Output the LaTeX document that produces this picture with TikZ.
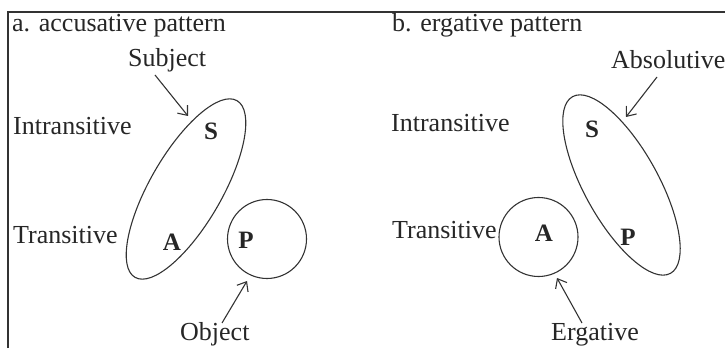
\documentclass[tikz,border=0pt]{standalone}
\usepackage{fontspec}
\setmainfont{Liberation Serif}
\usetikzlibrary{shapes.geometric,arrows.meta}
\definecolor{ink}{HTML}{262626}
\definecolor{linec}{HTML}{333333}
\begin{document}
\begin{tikzpicture}[x=1pt,y=1pt,
  lbl/.style={anchor=base west,inner sep=0pt,text=ink,font=\fontsize{26}{30}\selectfont},
  role/.style={inner sep=0pt,text=ink,font=\fontsize{25}{30}\selectfont\bfseries},
  blob/.style={draw=linec,line width=1.1pt,ellipse,inner sep=0pt},
  ring/.style={draw=linec,line width=1.1pt,circle,inner sep=0pt,minimum size=79pt},
  pointer/.style={draw=linec,line width=1.1pt,-{Straight Barb[length=8pt,width=13pt,line width=1.1pt]}},
  frame/.style={draw=linec,line width=1.2pt}]
\useasboundingbox (0,0) rectangle (725,348);
% frame
\coordinate (fb) at (8,0);
\coordinate (fc) at (8,336);
\coordinate (fr) at (725,336);
\draw[frame] (fb) -- (fc) -- (fr);
% titles
\node[lbl] (ta) at (12,316) {a. accusative pattern};
\node[lbl] (tb) at (392,316) {b. ergative pattern};
% left panel
\node[lbl] (intrA) at (13,213) {Intransitive};
\node[lbl] (transA) at (13,104) {Transitive};
\node[lbl] (subj) at (128,281) {Subject};
\node[lbl] (obj) at (180,8) {Object};
\node[blob,minimum width=204pt,minimum height=72pt,rotate=60] (ellA) at (186,159) {};
\node[ring] (circP) at (267,109) {};
\node[role] (sA) at (211,217) {S};
\node[role] (aA) at (172,106) {A};
\node[role] (pA) at (246,108) {P};
\coordinate (subjS) at (155,273);
\coordinate (subjE) at (188,232);
\coordinate (objS) at (222,25);
\coordinate (objE) at (247,67);
\draw[pointer] (subjS) -- (subjE);
\draw[pointer] (objS) -- (objE);
% right panel
\node[lbl] (intrB) at (391,216) {Intransitive};
\node[lbl] (transB) at (392,109) {Transitive};
\node[lbl] (abs) at (611,279) {Absolutive};
\node[lbl] (erg) at (551,8) {Ergative};
\node[blob,minimum width=202pt,minimum height=74pt,rotate=-61] (ellB) at (621.5,163) {};
\node[ring] (circA) at (538.5,111) {};
\node[role] (sB) at (592,219) {S};
\node[role] (pB) at (628,111) {P};
\node[role] (aB) at (544,115) {A};
\coordinate (absS) at (657,271);
\coordinate (absE) at (626,231);
\coordinate (ergS) at (582,25);
\coordinate (ergE) at (557,70);
\draw[pointer] (absS) -- (absE);
\draw[pointer] (ergS) -- (ergE);
\end{tikzpicture}
\end{document}
